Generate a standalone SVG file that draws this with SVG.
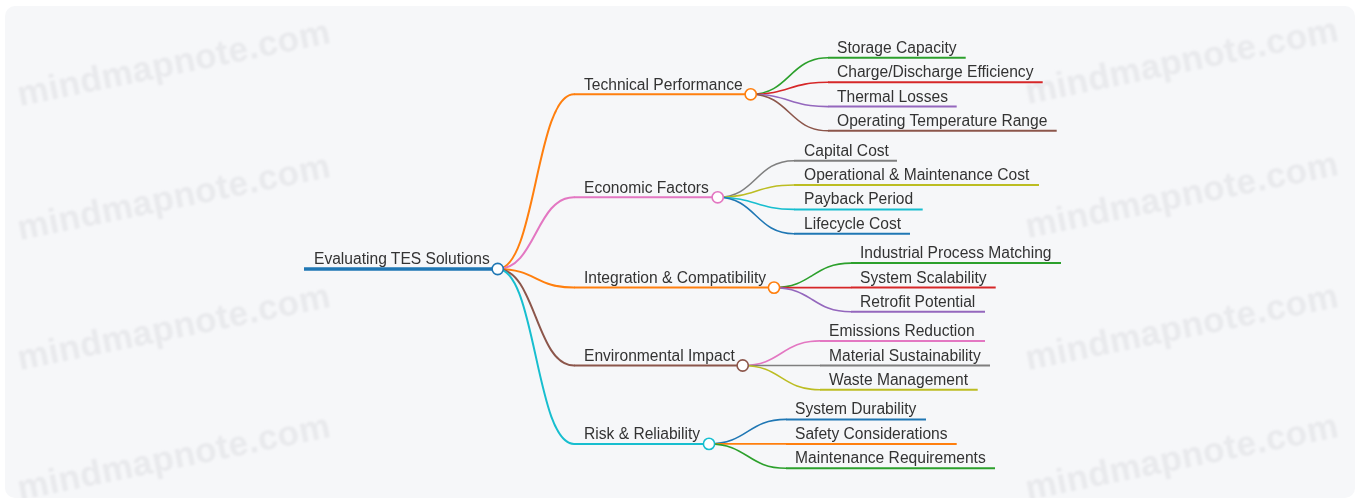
<svg xmlns="http://www.w3.org/2000/svg" width="1360" height="503" viewBox="0 0 1360 503">
  <defs>
    <clipPath id="panel-clip">
      <rect x="5" y="6" width="1350" height="492" rx="10" ry="10"/>
    </clipPath>
    <filter id="soft" x="-5%" y="-20%" width="110%" height="140%">
      <feGaussianBlur stdDeviation="0.8"/>
    </filter>
  </defs>
  <style>
    .wm { font-family: "Liberation Sans", Arial, sans-serif; font-weight: bold; font-size: 35px; fill: #e8e9ec; letter-spacing: 0.5px; }
    .lbl { font-family: "Liberation Sans", Arial, sans-serif; font-size: 15.6px; fill: #333333; }
    .link { fill: none; stroke-width: 2; stroke-linecap: round; }
    .link2 { fill: none; stroke-width: 1.6; stroke-linecap: round; }
    .ul { stroke-width: 2; stroke-linecap: butt; }
    .dot { fill: #ffffff; stroke-width: 1.6; }
  </style>

  <!-- canvas -->
  <rect x="0" y="0" width="1360" height="503" fill="#ffffff"/>
  <rect x="5" y="6" width="1350" height="492" rx="10" ry="10" fill="#f6f7f9"/>

  <!-- watermark tiles -->
  <g id="watermarks" clip-path="url(#panel-clip)">
    <g filter="url(#soft)">
      <text class="wm" transform="translate(20,106) rotate(-11.5)">mindmapnote.com</text>
      <text class="wm" transform="translate(20,240) rotate(-11.5)">mindmapnote.com</text>
      <text class="wm" transform="translate(20,370) rotate(-11.5)">mindmapnote.com</text>
      <text class="wm" transform="translate(20,500) rotate(-11.5)">mindmapnote.com</text>
      <text class="wm" transform="translate(1028,104) rotate(-11.5)">mindmapnote.com</text>
      <text class="wm" transform="translate(1028,238) rotate(-11.5)">mindmapnote.com</text>
      <text class="wm" transform="translate(1028,370) rotate(-11.5)">mindmapnote.com</text>
      <text class="wm" transform="translate(1028,500) rotate(-11.5)">mindmapnote.com</text>
    </g>
  </g>

  <!-- connectors -->
  <g id="connectors">
    <!-- root to branches -->
    <path class="link" stroke="#ff7f0e" d="M497.7,269 C535.8,269 535.8,94.3 574,94.3"/>
    <path class="link" stroke="#e377c2" d="M497.7,269 C535.8,269 535.8,197.3 574,197.3"/>
    <path class="link" stroke="#ff7f0e" d="M497.7,269 C535.8,269 535.8,287.6 574,287.6"/>
    <path class="link" stroke="#8c564b" d="M497.7,269 C535.8,269 535.8,365.5 574,365.5"/>
    <path class="link" stroke="#17becf" d="M497.7,269 C535.8,269 535.8,443.9 574,443.9"/>

    <!-- Technical Performance -->
    <path class="link2" stroke="#2ca02c" d="M750.7,94.3 C789.3,94.3 789.3,57.8 828,57.8"/>
    <path class="link2" stroke="#d62728" d="M750.7,94.3 C789.3,94.3 789.3,82.2 828,82.2"/>
    <path class="link2" stroke="#9467bd" d="M750.7,94.3 C789.3,94.3 789.3,106.6 828,106.6"/>
    <path class="link2" stroke="#8c564b" d="M750.7,94.3 C789.3,94.3 789.3,130.8 828,130.8"/>

    <!-- Economic Factors -->
    <path class="link2" stroke="#7f7f7f" d="M717.7,197.3 C755.8,197.3 755.8,160.7 794,160.7"/>
    <path class="link2" stroke="#bcbd22" d="M717.7,197.3 C755.8,197.3 755.8,185 794,185"/>
    <path class="link2" stroke="#17becf" d="M717.7,197.3 C755.8,197.3 755.8,209.4 794,209.4"/>
    <path class="link2" stroke="#1f77b4" d="M717.7,197.3 C755.8,197.3 755.8,233.7 794,233.7"/>

    <!-- Integration & Compatibility -->
    <path class="link2" stroke="#2ca02c" d="M774,287.6 C812.5,287.6 812.5,263.1 851,263.1"/>
    <path class="link2" stroke="#d62728" d="M774,287.6 C812.5,287.6 812.5,287.6 851,287.6"/>
    <path class="link2" stroke="#9467bd" d="M774,287.6 C812.5,287.6 812.5,311.8 851,311.8"/>

    <!-- Environmental Impact -->
    <path class="link2" stroke="#e377c2" d="M742.7,365.5 C781.3,365.5 781.3,340.9 820,340.9"/>
    <path class="link2" stroke="#7f7f7f" d="M742.7,365.5 C781.3,365.5 781.3,365.5 820,365.5"/>
    <path class="link2" stroke="#bcbd22" d="M742.7,365.5 C781.3,365.5 781.3,389.8 820,389.8"/>

    <!-- Risk & Reliability -->
    <path class="link2" stroke="#1f77b4" d="M709,443.9 C747.5,443.9 747.5,419.4 786,419.4"/>
    <path class="link2" stroke="#ff7f0e" d="M709,443.9 C747.5,443.9 747.5,443.9 786,443.9"/>
    <path class="link2" stroke="#2ca02c" d="M709,443.9 C747.5,443.9 747.5,468.2 786,468.2"/>
  </g>

  <!-- root -->
  <g id="node-root">
    <line x1="304" y1="269" x2="497.7" y2="269" stroke="#1f77b4" stroke-width="3.6"/>
    <text class="lbl" x="314" y="263.5">Evaluating TES Solutions</text>
    <circle class="dot" cx="497.7" cy="269" r="5.6" stroke="#1f77b4"/>
  </g>

  <!-- branches -->
  <g id="node-technical">
    <line class="ul" x1="574" y1="94.3" x2="750.7" y2="94.3" stroke="#ff7f0e"/>
    <text class="lbl" x="584" y="89.8">Technical Performance</text>
    <circle class="dot" cx="750.7" cy="94.3" r="5.6" stroke="#ff7f0e"/>
  </g>
  <g id="node-economic">
    <line class="ul" x1="574" y1="197.3" x2="717.7" y2="197.3" stroke="#e377c2"/>
    <text class="lbl" x="584" y="192.8">Economic Factors</text>
    <circle class="dot" cx="717.7" cy="197.3" r="5.6" stroke="#e377c2"/>
  </g>
  <g id="node-integration">
    <line class="ul" x1="574" y1="287.6" x2="774" y2="287.6" stroke="#ff7f0e"/>
    <text class="lbl" x="584" y="283.1">Integration &amp; Compatibility</text>
    <circle class="dot" cx="774" cy="287.6" r="5.6" stroke="#ff7f0e"/>
  </g>
  <g id="node-environmental">
    <line class="ul" x1="574" y1="365.5" x2="742.7" y2="365.5" stroke="#8c564b"/>
    <text class="lbl" x="584" y="361">Environmental Impact</text>
    <circle class="dot" cx="742.7" cy="365.5" r="5.6" stroke="#8c564b"/>
  </g>
  <g id="node-risk">
    <line class="ul" x1="574" y1="443.9" x2="709" y2="443.9" stroke="#17becf"/>
    <text class="lbl" x="584" y="439.4">Risk &amp; Reliability</text>
    <circle class="dot" cx="709" cy="443.9" r="5.6" stroke="#17becf"/>
  </g>

  <!-- leaves: Technical Performance -->
  <g id="node-storage-capacity">
    <line class="ul" x1="828" y1="57.8" x2="965.7" y2="57.8" stroke="#2ca02c"/>
    <text class="lbl" x="837" y="52.8">Storage Capacity</text>
  </g>
  <g id="node-charge-discharge">
    <line class="ul" x1="828" y1="82.2" x2="1042.7" y2="82.2" stroke="#d62728"/>
    <text class="lbl" x="837" y="77.2">Charge/Discharge Efficiency</text>
  </g>
  <g id="node-thermal-losses">
    <line class="ul" x1="828" y1="106.6" x2="956.7" y2="106.6" stroke="#9467bd"/>
    <text class="lbl" x="837" y="101.6">Thermal Losses</text>
  </g>
  <g id="node-operating-temp">
    <line class="ul" x1="828" y1="130.8" x2="1056.7" y2="130.8" stroke="#8c564b"/>
    <text class="lbl" x="837" y="125.8">Operating Temperature Range</text>
  </g>

  <!-- leaves: Economic Factors -->
  <g id="node-capital-cost">
    <line class="ul" x1="794" y1="160.7" x2="897" y2="160.7" stroke="#7f7f7f"/>
    <text class="lbl" x="804" y="155.7">Capital Cost</text>
  </g>
  <g id="node-om-cost">
    <line class="ul" x1="794" y1="185" x2="1039" y2="185" stroke="#bcbd22"/>
    <text class="lbl" x="804" y="180">Operational &amp; Maintenance Cost</text>
  </g>
  <g id="node-payback">
    <line class="ul" x1="794" y1="209.4" x2="922.7" y2="209.4" stroke="#17becf"/>
    <text class="lbl" x="804" y="204.4">Payback Period</text>
  </g>
  <g id="node-lifecycle">
    <line class="ul" x1="794" y1="233.7" x2="910" y2="233.7" stroke="#1f77b4"/>
    <text class="lbl" x="804" y="228.7">Lifecycle Cost</text>
  </g>

  <!-- leaves: Integration & Compatibility -->
  <g id="node-process-matching">
    <line class="ul" x1="851" y1="263.1" x2="1061" y2="263.1" stroke="#2ca02c"/>
    <text class="lbl" x="860" y="258.1">Industrial Process Matching</text>
  </g>
  <g id="node-scalability">
    <line class="ul" x1="851" y1="287.6" x2="995.7" y2="287.6" stroke="#d62728"/>
    <text class="lbl" x="860" y="282.6">System Scalability</text>
  </g>
  <g id="node-retrofit">
    <line class="ul" x1="851" y1="311.8" x2="985" y2="311.8" stroke="#9467bd"/>
    <text class="lbl" x="860" y="306.8">Retrofit Potential</text>
  </g>

  <!-- leaves: Environmental Impact -->
  <g id="node-emissions">
    <line class="ul" x1="820" y1="340.9" x2="985" y2="340.9" stroke="#e377c2"/>
    <text class="lbl" x="829" y="335.9">Emissions Reduction</text>
  </g>
  <g id="node-material">
    <line class="ul" x1="820" y1="365.5" x2="990" y2="365.5" stroke="#7f7f7f"/>
    <text class="lbl" x="829" y="360.5">Material Sustainability</text>
  </g>
  <g id="node-waste">
    <line class="ul" x1="820" y1="389.8" x2="977.7" y2="389.8" stroke="#bcbd22"/>
    <text class="lbl" x="829" y="384.8">Waste Management</text>
  </g>

  <!-- leaves: Risk & Reliability -->
  <g id="node-durability">
    <line class="ul" x1="786" y1="419.4" x2="926" y2="419.4" stroke="#1f77b4"/>
    <text class="lbl" x="795" y="414.4">System Durability</text>
  </g>
  <g id="node-safety">
    <line class="ul" x1="786" y1="443.9" x2="956.7" y2="443.9" stroke="#ff7f0e"/>
    <text class="lbl" x="795" y="438.9">Safety Considerations</text>
  </g>
  <g id="node-maintenance">
    <line class="ul" x1="786" y1="468.2" x2="995" y2="468.2" stroke="#2ca02c"/>
    <text class="lbl" x="795" y="463.2">Maintenance Requirements</text>
  </g>
</svg>
